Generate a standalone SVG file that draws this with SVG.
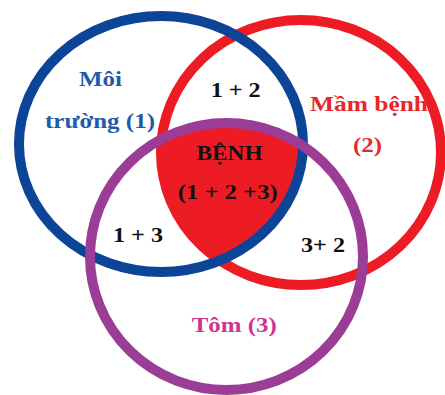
<svg xmlns="http://www.w3.org/2000/svg" width="445" height="395" viewBox="0 0 445 395">
  <defs>
    <clipPath id="clipBlue"><ellipse cx="161" cy="144" rx="142" ry="128"/></clipPath>
    <clipPath id="clipRed"><ellipse cx="301" cy="152.5" rx="140" ry="132.5"/></clipPath>
    <style>
      .ring { fill: none; stroke-width: 10; }
      .t { font-family: "Liberation Serif", "Times New Roman", serif; font-weight: bold; font-size: 21px; text-anchor: middle; }
      .blk { fill: #111111; }
    </style>
  </defs>
  <rect x="0" y="0" width="445" height="395" fill="#ffffff"/>
  <g id="core">
    <g clip-path="url(#clipBlue)">
      <g clip-path="url(#clipRed)">
        <ellipse cx="226.5" cy="256.5" rx="136.5" ry="133.5" fill="#ed1c24"/>
      </g>
    </g>
  </g>
  <g id="red-circle">
    <ellipse class="ring" cx="301" cy="152.5" rx="140" ry="132.5" stroke="#ed1c24"/>
  </g>
  <g id="blue-circle">
    <ellipse class="ring" cx="161" cy="144" rx="142" ry="128" stroke="#0c4597"/>
  </g>
  <g id="purple-circle">
    <ellipse class="ring" cx="226.5" cy="256.5" rx="136.5" ry="133.5" stroke="#9b3d97"/>
  </g>
  <g id="label-moi-truong">
    <text class="t" x="100.5" y="85.5" fill="#1f5ba8" textLength="43" lengthAdjust="spacingAndGlyphs">Môi</text>
    <text class="t" x="100" y="127.5" fill="#1f5ba8" textLength="110" lengthAdjust="spacingAndGlyphs">trường (1)</text>
  </g>
  <g id="label-1-2">
    <text class="t blk" x="235.7" y="96.5" textLength="50" lengthAdjust="spacingAndGlyphs">1 + 2</text>
  </g>
  <g id="label-mam-benh">
    <text class="t" x="369" y="111" fill="#e8262c" textLength="118" lengthAdjust="spacingAndGlyphs">Mầm bệnh</text>
    <text class="t" x="367.5" y="151.5" fill="#e8262c" textLength="29" lengthAdjust="spacingAndGlyphs">(2)</text>
  </g>
  <g id="label-benh">
    <text class="t blk" x="229.5" y="160" textLength="66" lengthAdjust="spacingAndGlyphs">BỆNH</text>
    <text class="t blk" x="227.7" y="199" textLength="100" lengthAdjust="spacingAndGlyphs">(1 + 2 +3)</text>
  </g>
  <g id="label-1-3">
    <text class="t blk" x="138" y="242.3" textLength="50" lengthAdjust="spacingAndGlyphs">1 + 3</text>
  </g>
  <g id="label-3-2">
    <text class="t blk" x="323" y="252.3" textLength="44" lengthAdjust="spacingAndGlyphs">3+ 2</text>
  </g>
  <g id="label-tom">
    <text class="t" x="234.2" y="331.5" fill="#cc3592" textLength="85" lengthAdjust="spacingAndGlyphs">Tôm (3)</text>
  </g>
</svg>
